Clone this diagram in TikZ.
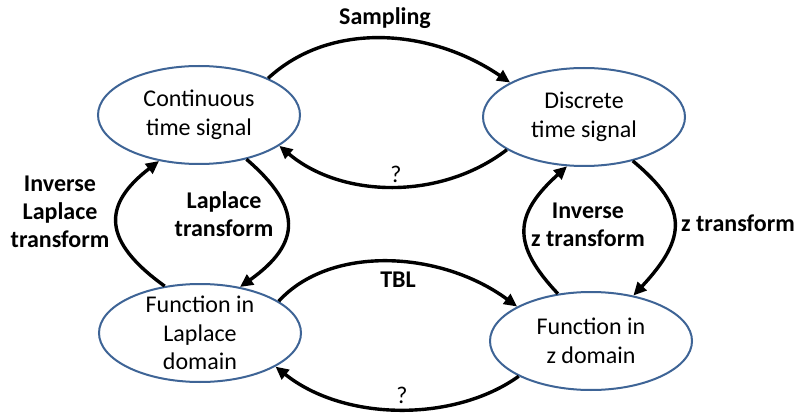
\documentclass[tikz,border=0pt]{standalone}
\usepackage{fontspec}
\setmainfont{Carlito}
\usetikzlibrary{shapes.geometric,arrows.meta}
\definecolor{ellblue}{RGB}{62,100,150}
\begin{document}
\begin{tikzpicture}[x=1pt,y=1pt,
  statebox/.style={ellipse,draw=ellblue,line width=2pt,fill=white,inner sep=0pt,minimum width=202pt,minimum height=98pt},
  txt/.style={align=center,inner sep=0pt,font=\fontsize{24}{28.5}\selectfont},
  lbl/.style={align=center,inner sep=0pt,font=\fontsize{24}{28}\selectfont\bfseries},
  conn/.style={line width=3.4pt,-{Triangle[length=13pt,width=12pt]}}]
\useasboundingbox[fill=white] (0,0) rectangle (798,413);
% ellipses
\node[statebox] (cont) at (199,298) {};
\node[statebox] (disc) at (584,296) {};
\node[statebox] (lap) at (200,80) {};
\node[statebox] (zd) at (591,72) {};
\node[txt] (contT) at (cont.center) {Continuous\\time signal};
\node[txt] (discT) at (disc.center) {Discrete\\time signal};
\node[txt] (lapT) at (lap.center) {Function in\\Laplace\\domain};
\node[txt] (zdT) at (zd.center) {Function in\\z domain};
% connectors
\draw[conn] (cont.28) .. controls (330,392) and (430,385) .. (disc.155);
\draw[conn] (disc.203) .. controls (440,212) and (341,215) .. (cont.339);
\draw[conn] (cont.317) .. controls (302,206) and (302,170) .. (lap.49);
\draw[conn] (lap.127) .. controls (102,172) and (102,208) .. (cont.229);
\draw[conn] (lap.22) .. controls (330,168) and (440,163) .. (zd.155);
\draw[conn] (zd.206) .. controls (455,-9) and (345,-9) .. (lap.336);
\draw[conn] (zd.125) .. controls (512,168) and (513,198) .. (disc.251);
\draw[conn] (disc.318) .. controls (688,206) and (688,176) .. (zd.47);
% labels
\node[lbl] (lsamp) at (385,395) {Sampling};
\node[txt] (lq1) at (396,239) {?};
\node[lbl] (llap) at (224,199) {Laplace\\transform};
\node[lbl] (lilap) at (60,201) {Inverse\\Laplace\\transform};
\node[lbl] (ltbl) at (398,133) {TBL};
\node[txt] (lq2) at (402,18) {?};
\node[lbl] (liz) at (588,188) {Inverse\\z transform};
\node[lbl] (lz) at (738,190) {z transform};
\end{tikzpicture}
\end{document}
